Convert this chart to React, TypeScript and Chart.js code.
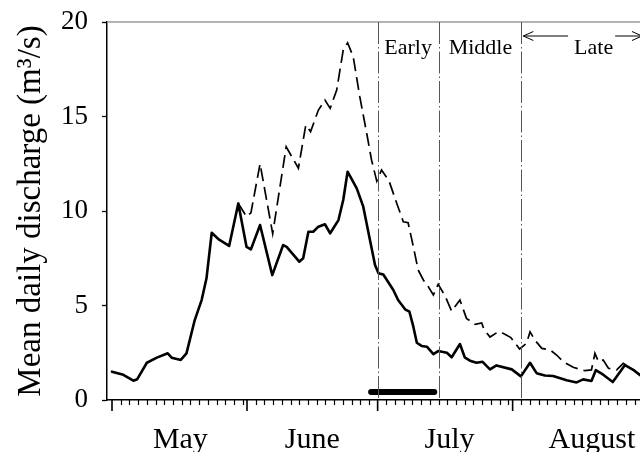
import { useEffect, useRef } from "react";
import { Chart, registerables } from "chart.js";

Chart.register(...registerables);

// ---- Data (days counted from 1 May = day 0) ----
const monthNames = ["May", "June", "July", "August"];
const monthStartDays = [0, 31, 61, 92];
const monthLengths = [31, 30, 31, 31];
const monthLabelDays = [15.7, 46, 77.5, 110.2];

const yTickValues = [0, 5, 10, 15, 20];

const solidDays = [
  0, 2.6, 4.9, 5.8, 8, 10.3, 12.8, 13.7, 15.8, 17.1, 19, 20.6, 21.7, 22.9, 24.5, 26.9,
  29, 30.9, 31.9, 34, 36.8, 39.3, 40.1, 43, 43.9, 45.1, 46.2, 47.4, 48.9, 50.1, 52,
  53.1, 54.1, 56.2, 57.7, 59.2, 60.4, 61.2, 62.3, 64.6, 65.7, 67.3, 68.3, 69.2, 70,
  71.1, 72.3, 73.8, 74.9, 76.9, 78, 79.9, 81, 82.2, 83.7, 85.1, 86.8, 88.3, 91.8,
  93.9, 96, 97.5, 99.4, 101.3, 104.4, 106.7, 108.2, 110.1, 111.1, 112.8, 115, 117.8,
  119.7, 121.2,
];
const solidValues = [
  1.5, 1.33, 1.02, 1.1, 1.97, 2.24, 2.47, 2.24, 2.12, 2.47, 4.23, 5.3, 6.44, 8.85, 8.5, 8.15,
  10.4, 8.1, 7.97, 9.26, 6.61, 8.2, 8.1, 7.32, 7.5, 8.9, 8.9, 9.17, 9.3, 8.82, 9.52,
  10.58, 12.08, 11.2, 10.23, 8.5, 7.14, 6.7, 6.64, 5.82, 5.29, 4.8, 4.67, 3.88, 3.03,
  2.86, 2.82, 2.43, 2.59, 2.5, 2.26, 2.96, 2.26, 2.08, 1.97, 2.02, 1.62, 1.83, 1.62,
  1.25, 1.97, 1.42, 1.3, 1.27, 1.04, 0.93, 1.09, 1.01, 1.58, 1.34, 0.95, 1.85,
  1.6, 1.32,
];

const dashedDays = [
  29, 30.9, 31.9, 34, 36.9, 40, 41.3, 42.8, 44.5, 45.6, 47.4, 48.9, 50.1, 51.6, 53.1,
  54.1, 55.4, 56.9, 58.5, 59.6, 60.8, 61.9, 63.6, 65.4, 66.9, 68, 69.2, 70.3, 71.5,
  72.6, 73.8, 74.9, 76.5, 78, 79.9, 81.4, 83.4, 84.9, 85.4, 86.8, 88.7, 89.8, 91.6,
  93.6, 95.2, 96, 97.1, 98.7, 100.6, 102.1, 103.6, 105.9, 108.6, 110.1, 110.9, 111.7,
  112.8, 114, 115.9, 117.4, 118, 119.7, 121.2,
];
const dashedValues = [
  10.4, 9.7, 9.9, 12.5, 8.8, 13.4, 12.87, 12.26, 14.55, 14.2, 15.34, 15.87, 15.43, 16.4, 18.52,
  18.9, 18.16, 16.05, 14.1, 12.7, 11.58, 12.17, 11.6, 10.4, 9.43, 9.38, 8.11, 6.88, 6.35,
  6.0, 5.56, 6.12, 5.5, 4.7, 5.29, 4.32, 4.0, 4.08, 3.75, 3.33, 3.61, 3.53, 3.3,
  2.7, 3.0, 3.61, 3.17, 2.73, 2.65, 2.38, 2.03, 1.73, 1.55, 1.59, 2.47, 2.03,
  2.12, 1.68, 1.59, 1.94, 1.85, 1.59, 1.35,
];

const barDays = [59.5, 74.0];
const barValues = [0.42, 0.42];

const phaseNames = ["Early", "Middle", "Late"];
const phaseBoundaryDays = [61, 75, 94];
const phaseLabelDays = [68, 84.6, 110.6];

const X_MIN = -1.15;
const X_MAX = 121.25;

const SERIF = "'Liberation Serif', 'Times New Roman', serif";

const overlayPlugin = {
  id: "overlay",
  afterDraw(chart: any) {
    const ctx = chart.ctx as CanvasRenderingContext2D;
    const xs = chart.scales.x;
    const a = chart.chartArea;
    const px = (d: number) => xs.getPixelForValue(d);
    ctx.save();

    // top frame line
    ctx.strokeStyle = "#9a9a9a";
    ctx.lineWidth = 1.5;
    ctx.beginPath();
    ctx.moveTo(a.left, a.top);
    ctx.lineTo(a.right, a.top);
    ctx.stroke();

    // x tick marks: minor every 2 days within each month, major at month starts
    ctx.strokeStyle = "#000";
    ctx.lineWidth = 1.2;
    ctx.beginPath();
    monthStartDays.forEach((start, i) => {
      for (let k = 2; k < monthLengths[i]; k += 2) {
        const d = start + k;
        if (d > X_MAX) break;
        const x = Math.round(px(d)) + 0.5;
        ctx.moveTo(x, a.bottom);
        ctx.lineTo(x, a.bottom + 5);
      }
    });
    ctx.stroke();
    ctx.lineWidth = 1.6;
    ctx.beginPath();
    monthStartDays.forEach((d) => {
      const x = px(d);
      ctx.moveTo(x, a.bottom);
      ctx.lineTo(x, a.bottom + 11);
    });
    ctx.stroke();

    // phase boundaries (dash-dot)
    ctx.strokeStyle = "#555";
    ctx.lineWidth = 1;
    ctx.setLineDash([22, 3, 1.5, 3]);
    phaseBoundaryDays.forEach((d) => {
      const x = Math.round(px(d)) + 0.5;
      ctx.beginPath();
      ctx.moveTo(x, a.top);
      ctx.lineTo(x, a.bottom);
      ctx.stroke();
    });
    ctx.setLineDash([]);

    // phase labels
    ctx.fillStyle = "#000";
    ctx.font = `22px ${SERIF}`;
    ctx.textAlign = "center";
    ctx.textBaseline = "alphabetic";
    const labelY = a.top + 32;
    const widths: number[] = [];
    phaseNames.forEach((name, i) => {
      ctx.fillText(name, px(phaseLabelDays[i]), labelY);
      widths.push(ctx.measureText(name).width);
    });

    // arrows around "Late"
    const arrowY = a.top + 14;
    const lateX = px(phaseLabelDays[2]);
    const lateHalf = widths[2] / 2;
    const leftStart = px(phaseBoundaryDays[2]) + 2;
    const leftEnd = lateX - lateHalf - 6;
    const rightStart = lateX + lateHalf + 2;
    const rightEnd = a.right + 2;
    ctx.strokeStyle = "#000";
    ctx.lineWidth = 1;
    ctx.beginPath();
    ctx.moveTo(leftStart, arrowY);
    ctx.lineTo(leftEnd, arrowY);
    ctx.moveTo(leftStart + 10, arrowY - 4.5);
    ctx.lineTo(leftStart, arrowY);
    ctx.lineTo(leftStart + 10, arrowY + 4.5);
    ctx.moveTo(rightStart, arrowY);
    ctx.lineTo(rightEnd, arrowY);
    ctx.moveTo(rightEnd - 10, arrowY - 4.5);
    ctx.lineTo(rightEnd, arrowY);
    ctx.lineTo(rightEnd - 10, arrowY + 4.5);
    ctx.stroke();

    ctx.restore();
  },
};

export default function App() {
  const canvasRef = useRef<HTMLCanvasElement | null>(null);

  useEffect(() => {
    if (!canvasRef.current) return;
    const toPoints = (xs: number[], ys: number[]) => xs.map((x, i) => ({ x, y: ys[i] }));
    const chart = new Chart(canvasRef.current, {
      type: "line",
      data: {
        datasets: [
          {
            label: "solid",
            data: toPoints(solidDays, solidValues),
            borderColor: "#000",
            borderWidth: 2.6,
            pointRadius: 0,
            tension: 0,
            borderJoinStyle: "round",
            borderCapStyle: "round",
          },
          {
            label: "dashed",
            data: toPoints(dashedDays, dashedValues),
            borderColor: "#000",
            borderWidth: 1.7,
            borderDash: [13, 6],
            pointRadius: 0,
            tension: 0,
          },
          {
            label: "bar",
            data: toPoints(barDays, barValues),
            borderColor: "#000",
            borderWidth: 6,
            borderCapStyle: "round",
            pointRadius: 0,
          },
        ],
      },
      options: {
        animation: false,
        responsive: true,
        maintainAspectRatio: false,
        layout: { padding: { top: 22, right: 0, left: 0, bottom: 0 } },
        plugins: {
          legend: { display: false },
          tooltip: { enabled: false },
        },
        scales: {
          x: {
            type: "linear",
            min: X_MIN,
            max: X_MAX,
            afterBuildTicks: (scale: any) => {
              scale.ticks = monthLabelDays.map((v) => ({ value: v }));
            },
            afterFit: (scale: any) => {
              scale.height = 52;
              scale.paddingLeft = 0;
              scale.paddingRight = 0;
              scale.paddingTop = 0;
              scale.paddingBottom = 0;
            },
            ticks: {
              autoSkip: false,
              maxRotation: 0,
              minRotation: 0,
              padding: 22,
              color: "#000",
              font: { family: SERIF, size: 30 },
              callback: (_v: any, i: number) => monthNames[i],
            },
            grid: { display: false, drawTicks: false },
            border: { display: true, color: "#000", width: 1.5 },
          },
          y: {
            type: "linear",
            min: 0,
            max: 20,
            afterBuildTicks: (scale: any) => {
              scale.ticks = yTickValues.map((v) => ({ value: v }));
            },
            afterFit: (scale: any) => {
              scale.width = 107;
              scale.paddingLeft = 0;
              scale.paddingRight = 0;
              scale.paddingTop = 0;
              scale.paddingBottom = 0;
            },
            ticks: {
              padding: 14,
              color: "#000",
              font: { family: SERIF, size: 27 },
            },
            grid: {
              drawOnChartArea: false,
              drawTicks: true,
              tickLength: 5,
              tickColor: "#000",
              tickWidth: 1.3,
            },
            border: { display: true, color: "#000", width: 1.5 },
            title: {
              display: true,
              text: "Mean daily discharge (m³/s)",
              color: "#000",
              font: { family: SERIF, size: 33 },
              padding: { top: 12, bottom: 0 },
            },
          },
        },
      },
      plugins: [overlayPlugin],
    });
    return () => chart.destroy();
  }, []);

  return (
    <div style={{ position: "absolute", left: 0, top: 0, width: 640, height: 452 }}>
      <canvas ref={canvasRef} />
    </div>
  );
}
